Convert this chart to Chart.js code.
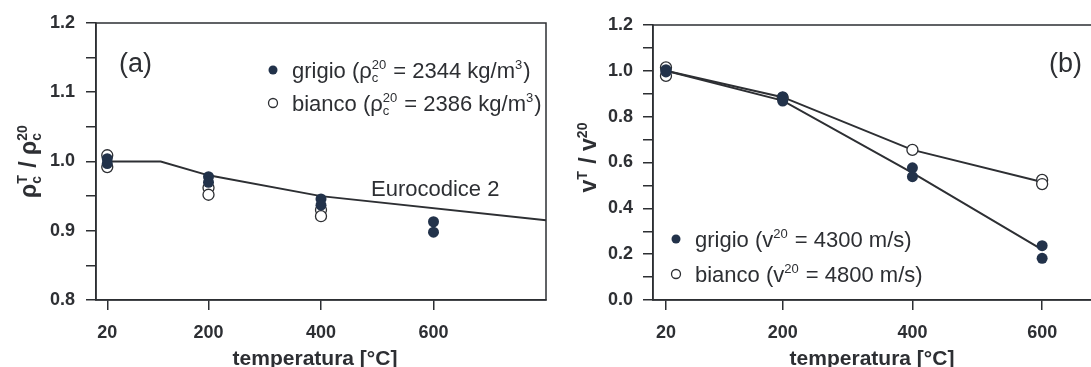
<!DOCTYPE html>
<html>
<head>
<meta charset="utf-8">
<script src="https://cdn.jsdelivr.net/npm/chart.js@4"></script>
<style>
  html, body { margin: 0; padding: 0; background: #fff; overflow: hidden; width: 1091px; height: 367px; }
  .box { position: absolute; top: 0; width: 560px; height: 367px; }
  #boxA { left: 0; }
  #boxB { left: 560px; }
</style>
</head>
<body>
<div class="box" id="boxA"><canvas id="graficoA" width="560" height="367"></canvas></div>
<div class="box" id="boxB"><canvas id="graficoB" width="560" height="367"></canvas></div>
<script>
// temperature di prova (tick dell'asse x)
const temperature = [20, 200, 400, 600];

// (a) densità relativa rho_c^T / rho_c^20
const grigioDensT = [20, 20, 200, 200, 400, 400, 600, 600];
const grigioDens  = [1.004, 0.997, 0.978, 0.970, 0.946, 0.937, 0.913, 0.898];
const biancoDensT = [20, 20, 200, 200, 400, 400];
const biancoDens  = [1.009, 0.992, 0.962, 0.952, 0.930, 0.921];
// curva Eurocodice 2
const ecT    = [20, 115, 200, 400, 800];
const ecDens = [1.0, 1.0, 0.98, 0.95, 0.915];

// (b) velocità relativa v^T / v^20
const grigioVelT = [20, 20, 20, 200, 200, 400, 400, 600, 600];
const grigioVel  = [1.0, 1.005, 0.995, 0.887, 0.868, 0.577, 0.538, 0.237, 0.182];
const biancoVelT = [20, 20, 200, 400, 600, 600];
const biancoVel  = [1.015, 0.978, 0.882, 0.655, 0.524, 0.506];
// medie unite dalle linee
const grigioVelMedia = [1.0, 0.87, 0.555, 0.22];
const biancoVelMedia = [1.0, 0.885, 0.655, 0.515];

const FONT = '"Liberation Sans", Arial, sans-serif';
const INK = '#2d2f33';
const PUNTO = '#22324a';

function punti(xs, ys) {
  return xs.map((x, i) => ({ x: x, y: ys[i] }));
}

// testo con pedici / apici (sub e sup sovrapposti come nell'originale)
function testoRicco(ctx, x, y, parti, size, weight, disegna) {
  const x0 = x;
  parti.forEach(p => {
    if (p.t) {
      ctx.font = weight + ' ' + size + 'px ' + FONT;
      if (disegna) ctx.fillText(p.t, x, y);
      x += ctx.measureText(p.t).width;
    } else {
      const s = Math.round(size * 0.6);
      ctx.font = weight + ' ' + s + 'px ' + FONT;
      let w = 0;
      if (p.sub) {
        if (disegna) ctx.fillText(p.sub, x, y + size * 0.2);
        w = ctx.measureText(p.sub).width;
      }
      if (p.sup) {
        if (disegna) ctx.fillText(p.sup, x, y - size * 0.42);
        w = Math.max(w, ctx.measureText(p.sup).width);
      }
      x += w + 1;
    }
  });
  return x - x0;
}

function testoCentrato(ctx, cx, cy, parti, size, weight, ruota) {
  ctx.save();
  ctx.translate(cx, cy);
  if (ruota) ctx.rotate(-Math.PI / 2);
  const w = testoRicco(ctx, 0, 0, parti, size, weight, false);
  testoRicco(ctx, -w / 2, size * 0.36, parti, size, weight, true);
  ctx.restore();
}

function pallino(ctx, x, y, pieno) {
  ctx.beginPath();
  ctx.arc(x, y, 4.5, 0, Math.PI * 2);
  if (pieno) { ctx.fillStyle = PUNTO; ctx.fill(); }
  else { ctx.fillStyle = '#fff'; ctx.fill(); ctx.lineWidth = 1.3; ctx.strokeStyle = INK; ctx.stroke(); }
}

function scalaX(max) {
  return {
    type: 'linear', min: 0, max: max,
    afterBuildTicks: ax => { ax.ticks = temperature.map(v => ({ value: v })); },
    afterFit: ax => { ax.height = 67; },
    grid: { drawOnChartArea: false, drawTicks: true, tickLength: 10, color: INK, lineWidth: 1.5 },
    border: { display: true, color: INK, width: 1.5 },
    ticks: {
      autoSkip: false, maxRotation: 0, padding: 12, color: INK,
      font: { family: FONT, size: 18, weight: 'bold' },
      callback: v => String(v)
    }
  };
}

function scalaY(min, max, passo, ogni, larghezza, pad) {
  return {
    type: 'linear', min: min, max: max,
    afterFit: ax => { ax.width = larghezza; },
    grid: { drawOnChartArea: false, drawTicks: true, tickLength: 10, color: INK, lineWidth: 1.5 },
    border: { display: true, color: INK, width: 1.5 },
    ticks: {
      stepSize: passo, autoSkip: false, padding: pad, color: INK,
      font: { family: FONT, size: 18, weight: 'bold' },
      callback: v => (Math.round(v / passo) % ogni === 0 ? v.toFixed(1) : '')
    }
  };
}

const cornice = {
  id: 'cornice',
  beforeDatasetsDraw(chart) {
    const a = chart.chartArea, ctx = chart.ctx;
    ctx.save();
    ctx.strokeStyle = INK;
    ctx.lineWidth = 1.5;
    ctx.strokeRect(a.left, a.top, a.right - a.left, a.bottom - a.top);
    ctx.restore();
  }
};

function datasetPunti(data, pieno) {
  return {
    data: data, showLine: false,
    pointRadius: 5.5, pointHoverRadius: 5.5,
    pointBackgroundColor: pieno ? PUNTO : '#fff',
    pointBorderColor: pieno ? PUNTO : INK,
    pointBorderWidth: pieno ? 0 : 1.3,
    order: pieno ? 1 : 2
  };
}

function datasetLinea(data) {
  return {
    data: data, showLine: true, pointRadius: 0,
    borderColor: INK, borderWidth: 2, tension: 0, fill: false, order: 3
  };
}

const baseOpzioni = {
  responsive: false,
  animation: false,
  plugins: { legend: { display: false }, tooltip: { enabled: false } }
};

// ---------- grafico (a) ----------
const testiA = {
  id: 'testiA',
  afterDraw(chart) {
    const ctx = chart.ctx, a = chart.chartArea;
    ctx.save();
    ctx.fillStyle = INK;
    ctx.textBaseline = 'alphabetic';
    ctx.font = '27px ' + FONT;
    ctx.fillText('(a)', a.left + 23, a.top + 49);
    ctx.font = '22px ' + FONT;
    ctx.fillText('Eurocodice 2', a.left + 275, a.top + 173);

    pallino(ctx, a.left + 177, a.top + 47, true);
    pallino(ctx, a.left + 177, a.top + 80, false);
    ctx.fillStyle = INK;
    testoRicco(ctx, a.left + 196, a.top + 55,
      [{ t: 'grigio (ρ' }, { sub: 'c', sup: '20' }, { t: ' = 2344 kg/m' }, { sup: '3' }, { t: ')' }], 22, 'normal', true);
    testoRicco(ctx, a.left + 196, a.top + 88,
      [{ t: 'bianco (ρ' }, { sub: 'c', sup: '20' }, { t: ' = 2386 kg/m' }, { sup: '3' }, { t: ')' }], 22, 'normal', true);

    testoCentrato(ctx, 28, 161, [{ t: 'ρ' }, { sub: 'c', sup: 'T' }, { t: ' / ρ' }, { sub: 'c', sup: '20' }], 23, 'bold', true);
    testoCentrato(ctx, 315, 357, [{ t: 'temperatura [°C]' }], 21, 'bold', false);
    ctx.restore();
  }
};

new Chart(document.getElementById('graficoA'), {
  type: 'scatter',
  data: {
    datasets: [
      datasetPunti(punti(grigioDensT, grigioDens), true),
      datasetPunti(punti(biancoDensT, biancoDens), false),
      datasetLinea(punti(ecT, ecDens))
    ]
  },
  options: Object.assign({}, baseOpzioni, {
    layout: { padding: { left: 0, right: 14, top: 23, bottom: 0 } },
    scales: { x: scalaX(800), y: scalaY(0.8, 1.2, 0.05, 2, 96, 11) }
  }),
  plugins: [cornice, testiA]
});

// ---------- grafico (b) ----------
const testiB = {
  id: 'testiB',
  afterDraw(chart) {
    const ctx = chart.ctx, a = chart.chartArea;
    ctx.save();
    ctx.fillStyle = INK;
    ctx.font = '27px ' + FONT;
    ctx.fillText('(b)', 489, 72);

    pallino(ctx, a.left + 23, 239, true);
    pallino(ctx, a.left + 23, 274, false);
    ctx.fillStyle = INK;
    testoRicco(ctx, a.left + 42, 247, [{ t: 'grigio (v' }, { sup: '20' }, { t: ' = 4300 m/s)' }], 22, 'normal', true);
    testoRicco(ctx, a.left + 42, 282, [{ t: 'bianco (v' }, { sup: '20' }, { t: ' = 4800 m/s)' }], 22, 'normal', true);

    testoCentrato(ctx, 28, 157, [{ t: 'v' }, { sup: 'T' }, { t: ' / v' }, { sup: '20' }], 23, 'bold', true);
    testoCentrato(ctx, 312, 357, [{ t: 'temperatura [°C]' }], 21, 'bold', false);
    ctx.restore();
  }
};

new Chart(document.getElementById('graficoB'), {
  type: 'scatter',
  data: {
    datasets: [
      datasetPunti(punti(grigioVelT, grigioVel), true),
      datasetPunti(punti(biancoVelT, biancoVel), false),
      datasetLinea(punti(temperature, grigioVelMedia)),
      datasetLinea(punti(temperature, biancoVelMedia))
    ]
  },
  options: Object.assign({}, baseOpzioni, {
    layout: { padding: { left: 0, right: 13, top: 25, bottom: 0 } },
    scales: { x: scalaX(700), y: scalaY(0, 1.2, 0.1, 2, 93, 10) }
  }),
  plugins: [cornice, testiB]
});
</script>
</body>
</html>
